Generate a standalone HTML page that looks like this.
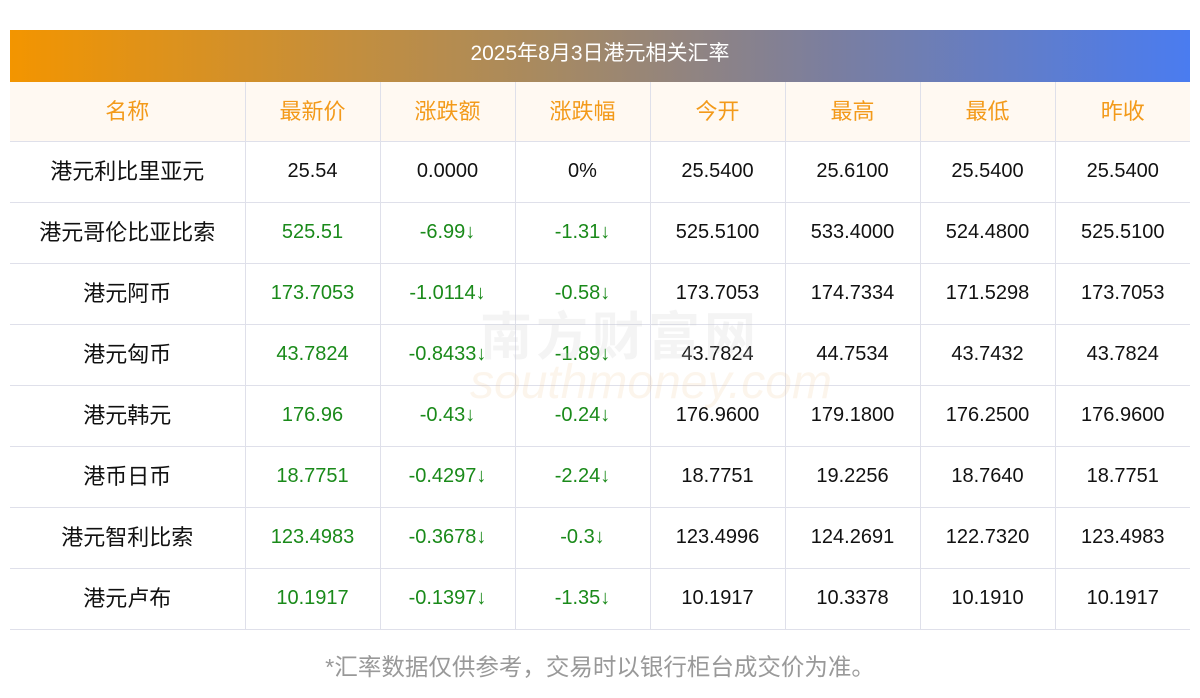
<!DOCTYPE html>
<html><head><meta charset="utf-8"><style>
body{margin:0;width:1200px;height:698px;background:#fff;font-family:"Liberation Sans","Noto Sans CJK SC",sans-serif;position:relative;overflow:hidden}
.title{position:absolute;left:10px;top:30px;width:1180px;height:52px;background:linear-gradient(90deg,#f39500,#a88a60 45%,#7a7ea0 70%,#4a7cf0);color:#fff;font-size:21px;text-align:center;line-height:48px}
table{position:absolute;left:10px;top:82px;border-collapse:collapse;width:1180px;table-layout:fixed}
td,th{border:1px solid #dfe0ea;text-align:center;font-size:20px;font-weight:normal;color:#111;padding:0;line-height:20px;vertical-align:middle}
td{height:58px;padding-bottom:2px}
td:first-child{height:60px;padding-bottom:0;font-size:22px;line-height:22px}
th{height:59px;padding-bottom:0;font-size:22px;line-height:22px}
tr>*:first-child{border-left:none}tr>*:last-child{border-right:none}
th{background:#fff9f2;color:#f39a1a;border-top:none}
.g{color:#1a8a1a}
.foot{position:absolute;left:0;width:1200px;top:648px;text-align:center;color:#999;font-size:23.5px}
.wm{position:absolute;left:480px;top:295px;font-size:52px;color:rgba(200,200,200,.2);letter-spacing:4px;font-weight:bold}
.wm2{position:absolute;left:470px;top:355px;font-size:48px;color:rgba(240,200,150,.18);font-style:italic}
</style></head><body>
<div class="title">2025年8月3日港元相关汇率</div>
<table>
<colgroup><col style="width:235px"><col span="7" style="width:135px"></colgroup>
<tr><th>名称</th><th>最新价</th><th>涨跌额</th><th>涨跌幅</th><th>今开</th><th>最高</th><th>最低</th><th>昨收</th></tr>
<tr><td>港元利比里亚元</td><td>25.54</td><td>0.0000</td><td>0%</td><td>25.5400</td><td>25.6100</td><td>25.5400</td><td>25.5400</td></tr>
<tr><td>港元哥伦比亚比索</td><td class="g">525.51</td><td class="g">-6.99↓</td><td class="g">-1.31↓</td><td>525.5100</td><td>533.4000</td><td>524.4800</td><td>525.5100</td></tr>
<tr><td>港元阿币</td><td class="g">173.7053</td><td class="g">-1.0114↓</td><td class="g">-0.58↓</td><td>173.7053</td><td>174.7334</td><td>171.5298</td><td>173.7053</td></tr>
<tr><td>港元匈币</td><td class="g">43.7824</td><td class="g">-0.8433↓</td><td class="g">-1.89↓</td><td>43.7824</td><td>44.7534</td><td>43.7432</td><td>43.7824</td></tr>
<tr><td>港元韩元</td><td class="g">176.96</td><td class="g">-0.43↓</td><td class="g">-0.24↓</td><td>176.9600</td><td>179.1800</td><td>176.2500</td><td>176.9600</td></tr>
<tr><td>港币日币</td><td class="g">18.7751</td><td class="g">-0.4297↓</td><td class="g">-2.24↓</td><td>18.7751</td><td>19.2256</td><td>18.7640</td><td>18.7751</td></tr>
<tr><td>港元智利比索</td><td class="g">123.4983</td><td class="g">-0.3678↓</td><td class="g">-0.3↓</td><td>123.4996</td><td>124.2691</td><td>122.7320</td><td>123.4983</td></tr>
<tr><td>港元卢布</td><td class="g">10.1917</td><td class="g">-0.1397↓</td><td class="g">-1.35↓</td><td>10.1917</td><td>10.3378</td><td>10.1910</td><td>10.1917</td></tr>
</table>
<div class="wm">南方财富网</div>
<div class="wm2">southmoney.com</div>
<div class="foot">*汇率数据仅供参考，交易时以银行柜台成交价为准。</div>
</body></html>
